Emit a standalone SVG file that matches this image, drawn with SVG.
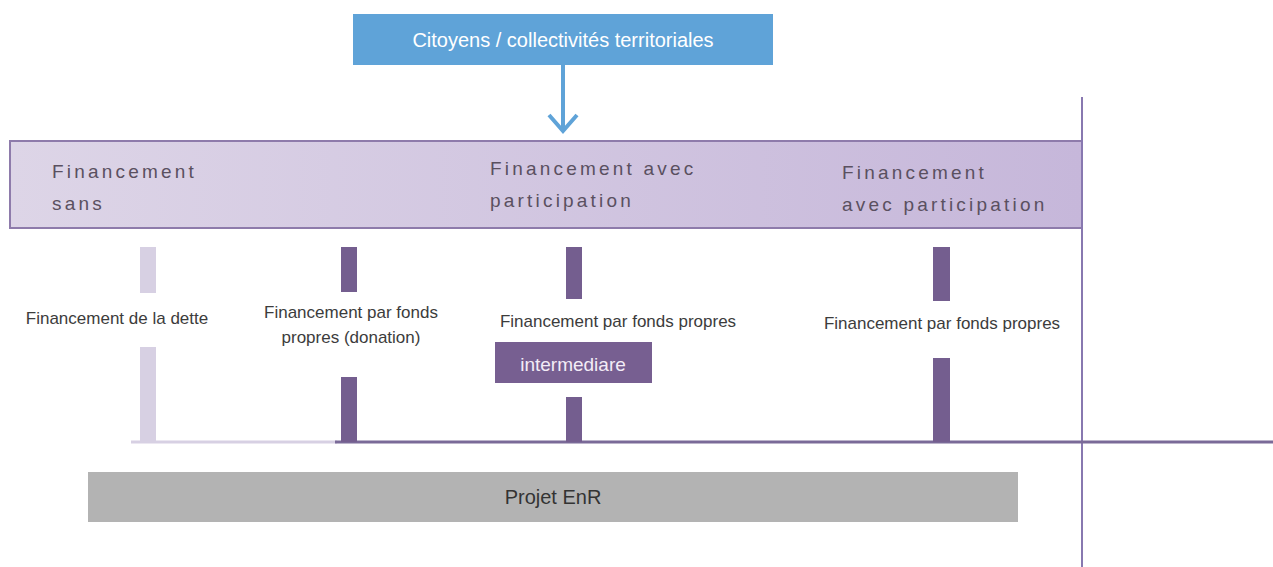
<svg xmlns="http://www.w3.org/2000/svg" width="1273" height="567" viewBox="0 0 1273 567">
<style>
.lbl{font-family:"Liberation Sans",Arial,sans-serif;font-size:17px;fill:#3c3c3c}
.band{font-family:"Liberation Sans",Arial,sans-serif;font-size:19px;fill:#5a5060;letter-spacing:3.2px}
.dark{fill:#745e8f}
.light{fill:#d7d0e3}
</style>
<defs>
<linearGradient id="bandGrad" x1="0" y1="0" x2="1" y2="0">
<stop offset="0" stop-color="#ddd5e7"/>
<stop offset="1" stop-color="#c6b7da"/>
</linearGradient>
</defs>
<rect width="1273" height="567" fill="#ffffff"/>

<g id="citoyens">
<rect x="353" y="14" width="420" height="51" fill="#5fa3d8"/>
<text x="563" y="47" text-anchor="middle" font-family="'Liberation Sans',Arial,sans-serif" font-size="20" fill="#ffffff">Citoyens / collectivités territoriales</text>
</g>

<g id="band">
<rect x="10" y="141" width="1072" height="87" fill="url(#bandGrad)" stroke="#8e7bab" stroke-width="2"/>
<text class="band" x="52" y="178">Financement</text>
<text class="band" x="52" y="210">sans</text>
<text class="band" x="490" y="175">Financement avec</text>
<text class="band" x="490" y="207">participation</text>
<text class="band" x="842" y="179">Financement</text>
<text class="band" x="842" y="211">avec participation</text>
</g>

<g id="connectors" fill="none">
<path d="M563 65 V130" stroke="#5fa3d8" stroke-width="4"/>
<path d="M549 115 L563 131 L577 115" stroke="#5fa3d8" stroke-width="4" stroke-linejoin="miter"/>
<path d="M1082 97 V567" stroke="#8878b0" stroke-width="2"/>
<path d="M131 442 H337" stroke="#d7d0e3" stroke-width="3"/>
<path d="M335 442 H1273" stroke="#7a6a98" stroke-width="3"/>
</g>

<g id="dette">
<rect class="light" x="140" y="247" width="16" height="46"/>
<rect class="light" x="140" y="347" width="16" height="95"/>
<text class="lbl" x="117" y="324" text-anchor="middle">Financement de la dette</text>
</g>

<g id="donation">
<rect class="dark" x="341" y="247" width="16" height="45"/>
<rect class="dark" x="341" y="377" width="16" height="65"/>
<text class="lbl" x="351" y="318" text-anchor="middle">Financement par fonds</text>
<text class="lbl" x="351" y="343" text-anchor="middle">propres (donation)</text>
</g>

<g id="fonds-intermediaire">
<rect class="dark" x="566" y="247" width="16" height="52"/>
<rect class="dark" x="566" y="397" width="16" height="45"/>
<text class="lbl" x="618" y="327" text-anchor="middle">Financement par fonds propres</text>
</g>

<g id="intermediare">
<rect x="495" y="342" width="157" height="41" fill="#775f91"/>
<text x="573" y="371" text-anchor="middle" font-family="'Liberation Sans',Arial,sans-serif" font-size="19" fill="#f3ecf7">intermediare</text>
</g>

<g id="fonds-direct">
<rect class="dark" x="933" y="247" width="17" height="54"/>
<rect class="dark" x="933" y="358" width="17" height="84"/>
<text class="lbl" x="942" y="329" text-anchor="middle">Financement par fonds propres</text>
</g>

<g id="projet">
<rect x="88" y="472" width="930" height="50" fill="#b3b3b3"/>
<text x="553" y="504" text-anchor="middle" font-family="'Liberation Sans',Arial,sans-serif" font-size="20" fill="#333333">Projet EnR</text>
</g>
</svg>
